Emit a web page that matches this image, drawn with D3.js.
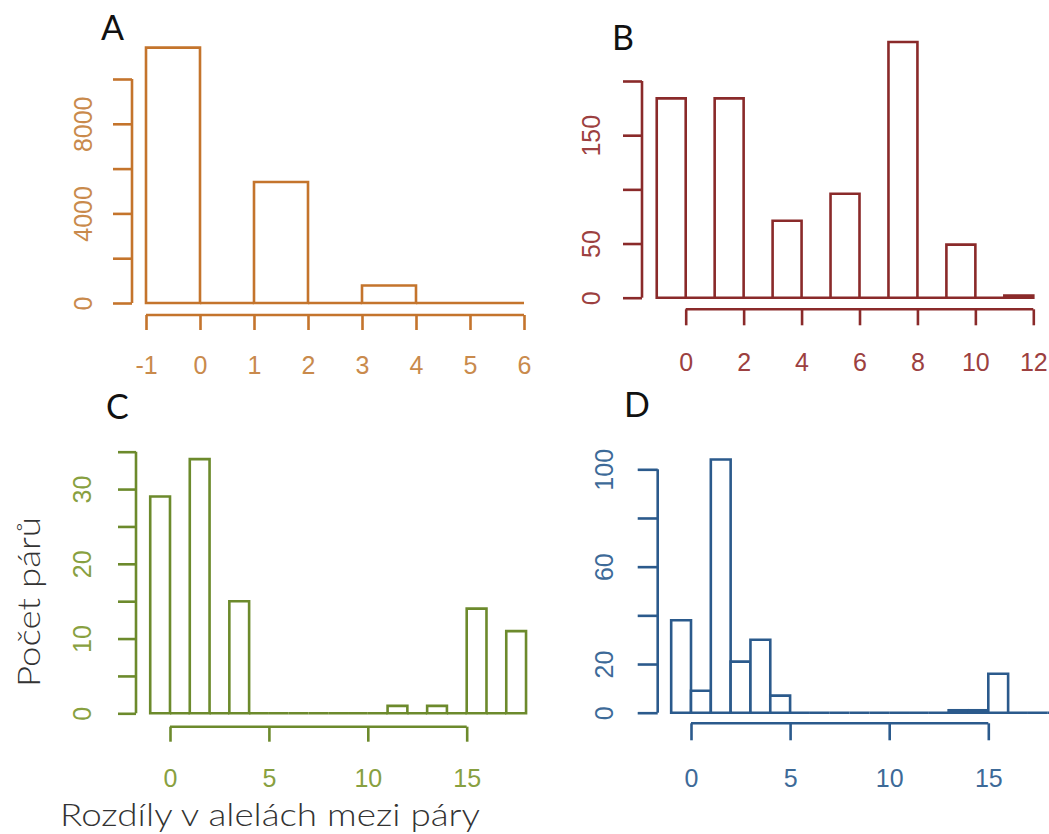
<!DOCTYPE html>
<html>
<head>
<meta charset="utf-8">
<script src="https://cdn.jsdelivr.net/npm/d3@7/dist/d3.min.js"></script>
<style>
  html, body { margin: 0; padding: 0; background: #ffffff; }
  svg { display: block; }
</style>
</head>
<body>
<svg id="chart" width="1049" height="834"></svg>
<script>
// ---------------- DATA ----------------
// Panel A
const aBreaks = [-1, 0, 1, 2, 3, 4, 5, 6];
const aCounts = [11400, 0, 5400, 0, 780, 0, 0];
const aYTicks = [0, 2000, 4000, 6000, 8000, 10000];
const aYLabels = [0, 4000, 8000];
const aXTicks = [-1, 0, 1, 2, 3, 4, 5, 6];

// Panel B
const bBreaks = [-1, 0, 1, 2, 3, 4, 5, 6, 7, 8, 9, 10, 11, 12];
const bCounts = [184, 0, 184, 0, 71, 0, 96, 0, 236, 0, 49, 0, 2];
const bYTicks = [0, 50, 100, 150, 200];
const bYLabels = [0, 50, 150];
const bXTicks = [0, 2, 4, 6, 8, 10, 12];

// Panel C
const cBreaks = [-1, 0, 1, 2, 3, 4, 5, 6, 7, 8, 9, 10, 11, 12, 13, 14, 15, 16, 17, 18];
const cCounts = [29, 0, 34, 0, 15, 0, 0, 0, 0, 0, 0, 0, 1, 0, 1, 0, 14, 0, 11];
const cYTicks = [0, 5, 10, 15, 20, 25, 30, 35];
const cYLabels = [0, 10, 20, 30];
const cXTicks = [0, 5, 10, 15];

// Panel D
const dBreaks = [-1, 0, 1, 2, 3, 4, 5, 6, 7, 8, 9, 10, 11, 12, 13, 14, 15, 16, 17, 18, 19];
const dCounts = [38, 9, 104, 21, 30, 7, 0, 0, 0, 0, 0, 0, 0, 0, 1, 1, 16, 0, 0, 0];
const dYTicks = [0, 20, 40, 60, 80, 100];
const dYLabels = [0, 20, 60, 100];
const dXTicks = [0, 5, 10, 15];

const panelLetters = ["A", "B", "C", "D"];
const yTitle = "Počet párů";
const xTitle = "Rozdíly v alelách mezi páry";

// ---------------- LAYOUT ----------------
const panels = [
  { letter: panelLetters[0], breaks: aBreaks, counts: aCounts, yTicks: aYTicks, yLabels: aYLabels, xTicks: aXTicks,
    xDom: [-1, 6], xRng: [146, 524], yDom: [0, 10000], yRng: [303, 79],
    yAxisX: 132, yTick: 19, yLabCx: 83, xAxisY: 315, xTick: 15, xLabCy: 365,
    line: "#c4742c", text: "#c98a4c", letterX: 101, letterY: 40 },
  { letter: panelLetters[1], breaks: bBreaks, counts: bCounts, yTicks: bYTicks, yLabels: bYLabels, xTicks: bXTicks,
    xDom: [0, 12], xRng: [685.7, 1033.3], yDom: [0, 200], yRng: [297.7, 81],
    yAxisX: 642, yTick: 19, yLabCx: 591, xAxisY: 309.3, xTick: 16, xLabCy: 362,
    line: "#8a2a2a", text: "#9c4040", letterX: 612, letterY: 50 },
  { letter: panelLetters[2], breaks: cBreaks, counts: cCounts, yTicks: cYTicks, yLabels: cYLabels, xTicks: cXTicks,
    xDom: [0, 15], xRng: [170, 466.7], yDom: [0, 35], yRng: [713.3, 451.7],
    yAxisX: 136, yTick: 18, yLabCx: 82, xAxisY: 726.7, xTick: 15, xLabCy: 778,
    line: "#6c8a2c", text: "#88a040", letterX: 106, letterY: 419 },
  { letter: panelLetters[3], breaks: dBreaks, counts: dCounts, yTicks: dYTicks, yLabels: dYLabels, xTicks: dXTicks,
    xDom: [0, 15], xRng: [691, 988.3], yDom: [0, 100], yRng: [712.7, 469.3],
    yAxisX: 657.7, yTick: 20, yLabCx: 604, xAxisY: 723.3, xTick: 17, xLabCy: 778,
    line: "#2b5a8c", text: "#3d6a98", letterX: 624, letterY: 417 }
];

const svg = d3.select("#chart");
const LW = 2.6;
const tickFont = "'Liberation Sans', Arial, sans-serif";
const tickFs = 25;
const titleFont = "Lato, 'Open Sans', sans-serif";

panels.forEach(p => {
  const x = d3.scaleLinear().domain(p.xDom).range(p.xRng);
  const y = d3.scaleLinear().domain(p.yDom).range(p.yRng);
  const g = svg.append("g");

  // histogram bars (as closed paths so empty bins still draw along the baseline)
  const bins = p.counts.map((c, i) => ({ x0: p.breaks[i], x1: p.breaks[i + 1], n: c }));
  g.selectAll("path.bar").data(bins).join("path")
    .attr("class", "bar")
    .attr("d", d => {
      const p0 = d3.path();
      p0.moveTo(x(d.x0), y(0));
      p0.lineTo(x(d.x0), y(d.n));
      p0.lineTo(x(d.x1), y(d.n));
      p0.lineTo(x(d.x1), y(0));
      p0.closePath();
      return p0.toString();
    })
    .attr("fill", "#ffffff")
    .attr("stroke", p.line)
    .attr("stroke-width", LW)
    .attr("stroke-linejoin", "miter");

  // y axis
  const yAx = y.copy().domain([d3.min(p.yTicks), d3.max(p.yTicks)])
    .range([y(d3.min(p.yTicks)), y(d3.max(p.yTicks))]);
  const gy = svg.append("g").attr("transform", `translate(${p.yAxisX},0)`)
    .call(d3.axisLeft(yAx).tickValues(p.yTicks).tickSize(p.yTick).tickSizeOuter(0)
      .tickFormat(v => p.yLabels.includes(v) ? String(v) : ""));
  gy.select(".domain").attr("stroke", p.line).attr("stroke-width", LW).attr("d",
    `M0,${yAx.range()[0]}V${yAx.range()[1]}`);
  gy.selectAll(".tick line").attr("stroke", p.line).attr("stroke-width", LW);
  gy.selectAll(".tick text")
    .attr("transform", "rotate(-90)")
    .attr("x", 0)
    .attr("y", -(p.yAxisX - p.yLabCx - 0.36 * tickFs))
    .attr("dy", 0)
    .attr("text-anchor", "middle")
    .attr("fill", p.text)
    .style("font-family", tickFont)
    .style("font-size", tickFs + "px");

  // x axis
  const xAx = x.copy().domain([d3.min(p.xTicks), d3.max(p.xTicks)])
    .range([x(d3.min(p.xTicks)), x(d3.max(p.xTicks))]);
  const gx = svg.append("g").attr("transform", `translate(0,${p.xAxisY})`)
    .call(d3.axisBottom(xAx).tickValues(p.xTicks).tickSize(p.xTick).tickSizeOuter(0)
      .tickFormat(d3.format("d")));
  gx.select(".domain").attr("stroke", p.line).attr("stroke-width", LW).attr("d",
    `M${xAx.range()[0]},0H${xAx.range()[1]}`);
  gx.selectAll(".tick line").attr("stroke", p.line).attr("stroke-width", LW);
  gx.selectAll(".tick text")
    .attr("y", p.xLabCy - p.xAxisY)
    .attr("dy", "0.36em")
    .attr("fill", p.text)
    .style("font-family", tickFont)
    .style("font-size", tickFs + "px")
    .text(v => v < 0 ? "-" + Math.abs(v) : String(v));

  // panel letter
  svg.append("text")
    .attr("x", p.letterX).attr("y", p.letterY)
    .attr("fill", "#111111")
    .style("font-family", titleFont)
    .style("font-size", "34px")
    .text(p.letter);
});

// axis titles
svg.append("text")
  .attr("transform", "translate(40,602) rotate(-90)")
  .attr("text-anchor", "middle")
  .attr("fill", "#333333")
  .style("font-family", titleFont)
  .style("font-size", "32px")
  .style("font-weight", 300)
  .attr("textLength", 170)
  .attr("lengthAdjust", "spacingAndGlyphs")
  .text(yTitle);

svg.append("text")
  .attr("x", 270).attr("y", 826)
  .attr("text-anchor", "middle")
  .attr("fill", "#333333")
  .style("font-family", titleFont)
  .style("font-size", "32px")
  .style("font-weight", 300)
  .attr("textLength", 420)
  .attr("lengthAdjust", "spacingAndGlyphs")
  .text(xTitle);
</script>
</body>
</html>
